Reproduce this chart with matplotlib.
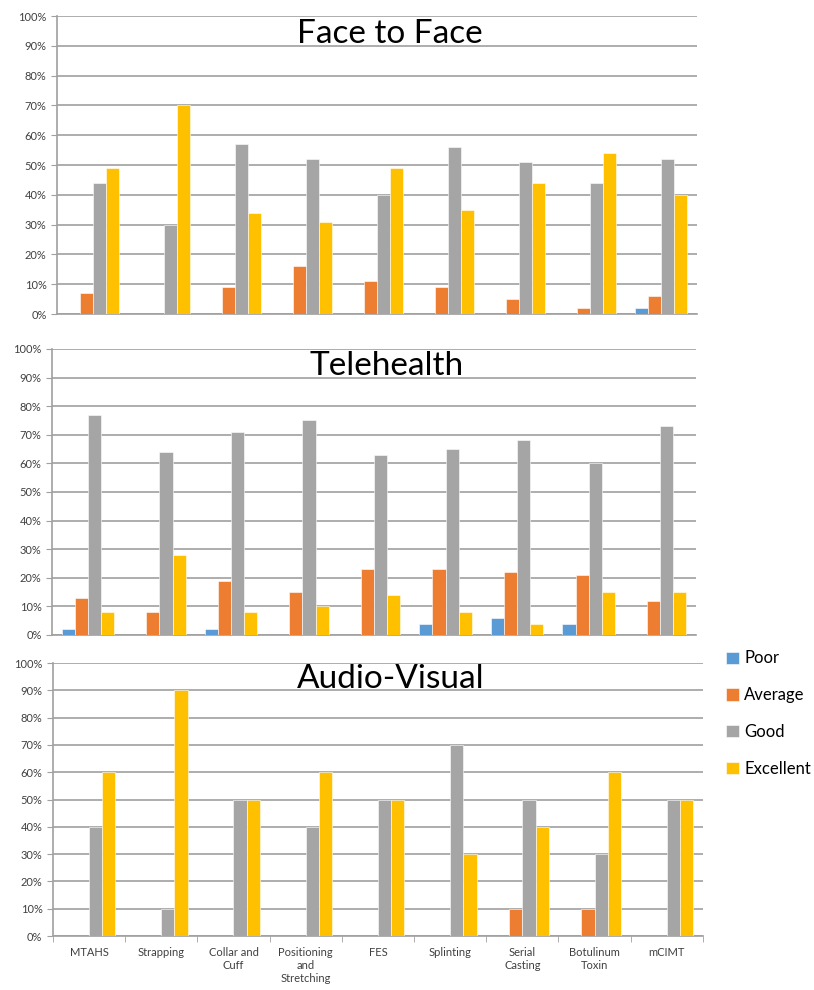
import matplotlib.pyplot as plt
import numpy as np
from matplotlib.ticker import PercentFormatter

# Data
categories = ['MTAHS', 'Strapping', 'Collar and\nCuff', 'Positioning\nand\nStretching', 'FES',
              'Splinting', 'Serial\nCasting', 'Botulinum\nToxin', 'mCIMT']
ratings = ['Poor', 'Average', 'Good', 'Excellent']

face_poor = [0, 0, 0, 0, 0, 0, 0, 0, 2]
face_average = [7, 0, 9, 16, 11, 9, 5, 2, 6]
face_good = [44, 30, 57, 52, 40, 56, 51, 44, 52]
face_excellent = [49, 70, 34, 31, 49, 35, 44, 54, 40]

tele_poor = [2, 0, 2, 0, 0, 4, 6, 4, 0]
tele_average = [13, 8, 19, 15, 23, 23, 22, 21, 12]
tele_good = [77, 64, 71, 75, 63, 65, 68, 60, 73]
tele_excellent = [8, 28, 8, 10, 14, 8, 4, 15, 15]

av_poor = [0, 0, 0, 0, 0, 0, 0, 0, 0]
av_average = [0, 0, 0, 0, 0, 0, 10, 10, 0]
av_good = [40, 10, 50, 40, 50, 70, 50, 30, 50]
av_excellent = [60, 90, 50, 60, 50, 30, 40, 60, 50]

panels = [
    ('Face to Face', [face_poor, face_average, face_good, face_excellent]),
    ('Telehealth', [tele_poor, tele_average, tele_good, tele_excellent]),
    ('Audio-Visual', [av_poor, av_average, av_good, av_excellent]),
]
colors = ['#5B9BD5', '#ED7D31', '#A5A5A5', '#FFC000']

plt.rcParams['font.family'] = ['Lato', 'DejaVu Sans']

fig = plt.figure(figsize=(8.14, 9.9), dpi=100)
rects = [
    [0.070, 0.6828, 0.786, 0.301],
    [0.064, 0.3586, 0.791, 0.2889],
    [0.065, 0.0545, 0.7985, 0.2758],
]

x = np.arange(len(categories))
width = 0.183
handles = []
for i, ((title, series), rect) in enumerate(zip(panels, rects)):
    ax = fig.add_axes(rect)
    for j, (vals, c) in enumerate(zip(series, colors)):
        b = ax.bar(x + (j - 1.5) * width, vals, width, color=c,
                   edgecolor='white', linewidth=0.4, label=ratings[j], zorder=3)
        if i == 0:
            handles.append(b)
    ax.set_xlim(-0.5, len(categories) - 0.5)
    ax.set_ylim(0, 100)
    ax.set_yticks(np.arange(0, 101, 10))
    ax.yaxis.set_major_formatter(PercentFormatter(decimals=0))
    ax.grid(axis='y', color='#A0A0A0', linewidth=1.2, zorder=0)
    for s in ['top', 'right']:
        ax.spines[s].set_visible(False)
    ax.spines['left'].set_color('#A0A0A0')
    ax.spines['bottom'].set_color('#A0A0A0')
    ax.spines['left'].set_linewidth(1.2)
    ax.spines['bottom'].set_linewidth(1.2)
    ax.tick_params(axis='y', labelsize=8, colors='#A0A0A0', labelcolor='#404040', length=4)
    if i == 2:
        ax.set_xticks(x)
        ax.set_xticklabels(categories, fontsize=8, color='#404040', va='top')
        ax.set_xticks(np.arange(-0.5, len(categories)), minor=True)
        ax.tick_params(axis='x', which='major', length=0, pad=8)
        ax.tick_params(axis='x', which='minor', length=4, color='#A0A0A0')
    else:
        ax.set_xticks([])
    ax.text(0.52, 0.94, title, transform=ax.transAxes, ha='center', va='center',
            fontsize=24, color='black', zorder=5)

fig.legend(handles=handles, labels=ratings, loc='upper left',
           bbox_to_anchor=(0.892, 0.343), frameon=False, fontsize=12,
           borderpad=0, borderaxespad=0,
           handlelength=0.75, handleheight=0.75, handletextpad=0.35, labelspacing=1.25)

fig.savefig('out.png', dpi=100)
